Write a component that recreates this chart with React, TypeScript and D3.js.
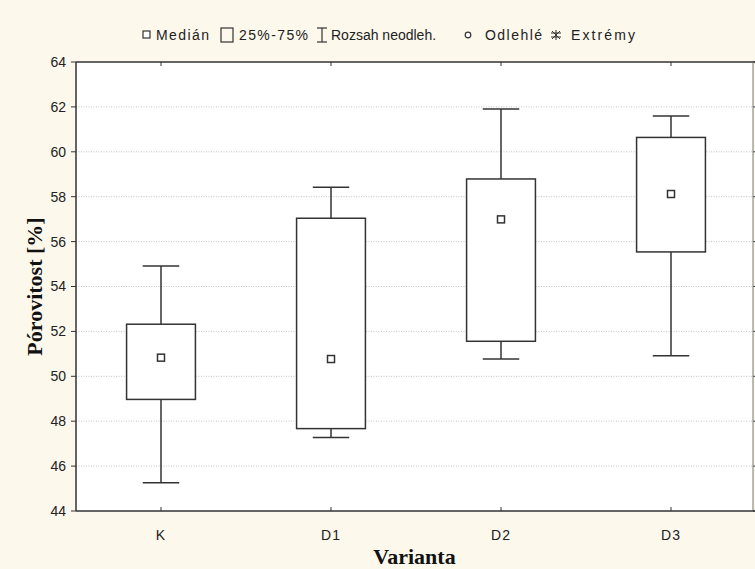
import React from "react";
import * as d3 from "d3";

// Porosity per variant: whisker ends, quartiles and median
const categories = ["K", "D1", "D2", "D3"];
const whiskerLow = [45.26, 47.27, 50.77, 50.92];
const q1 = [48.97, 47.67, 51.56, 55.54];
const medians = [50.83, 50.77, 56.99, 58.12];
const q3 = [52.32, 57.04, 58.79, 60.64];
const whiskerHigh = [54.91, 58.42, 61.91, 61.59];
const yTicks = [44, 46, 48, 50, 52, 54, 56, 58, 60, 62, 64];

const W = 755;
const H = 569;
const left = 76;
const right = 753;
const top = 62;
const bottom = 511;

const ink = "#333";
const sansFont = "'Liberation Sans', Arial, sans-serif";
const serifFont = "'Liberation Serif', 'Times New Roman', serif";

export default function App() {
  const x = d3.scaleBand<string>().domain(categories).range([left, 756]).paddingInner(0).paddingOuter(0);
  const y = d3.scaleLinear().domain([44, 64]).range([bottom, top]);
  const boxW = x.bandwidth() * 0.405;
  const capW = boxW * 0.53;
  const cx = (c: string) => (x(c) as number) + x.bandwidth() / 2;

  React.useEffect(() => {
    document.body.style.margin = "0";
  }, []);

  const legendY = 35;

  return (
    <svg width={W} height={H} style={{ display: "block", position: "absolute", left: 0, top: 0 }}>
      <rect x={0} y={0} width={W} height={H} fill="#fcf8ec" />
      <rect x={left} y={top} width={right - left} height={bottom - top} fill="#ffffff" />

      {/* horizontal dotted grid */}
      {yTicks.filter((t) => t !== 44 && t !== 64).map((t) => (
        <line key={"g" + t} x1={left} x2={right} y1={y(t)} y2={y(t)} stroke="#c4c4c4" strokeWidth={1} strokeDasharray="1,1.5" />
      ))}

      {/* y axis ticks & labels */}
      {yTicks.map((t) => (
        <g key={"yt" + t}>
          <line x1={left - 5} x2={left} y1={y(t)} y2={y(t)} stroke={ink} strokeWidth={1} />
          <line x1={right} x2={right + 4} y1={y(t)} y2={y(t)} stroke={ink} strokeWidth={1} />
          <text x={left - 10} y={y(t)} dy="0.35em" textAnchor="end" fontFamily={sansFont} fontSize={14} fill="#222">
            {t}
          </text>
        </g>
      ))}

      {/* boxes */}
      {categories.map((c, i) => {
        const xc = cx(c);
        return (
          <g key={c} stroke={ink} strokeWidth={1.5}>
            <line x1={xc} x2={xc} y1={y(whiskerHigh[i])} y2={y(q3[i])} />
            <line x1={xc} x2={xc} y1={y(q1[i])} y2={y(whiskerLow[i])} />
            <line x1={xc - capW / 2} x2={xc + capW / 2} y1={y(whiskerHigh[i])} y2={y(whiskerHigh[i])} />
            <line x1={xc - capW / 2} x2={xc + capW / 2} y1={y(whiskerLow[i])} y2={y(whiskerLow[i])} />
            <rect x={xc - boxW / 2} y={y(q3[i])} width={boxW} height={y(q1[i]) - y(q3[i])} fill="#ffffff" />
            <rect x={xc - 3.5} y={y(medians[i]) - 3.5} width={7} height={7} fill="#ffffff" />
          </g>
        );
      })}

      {/* frame */}
      <line x1={left} x2={right + 2} y1={top} y2={top} stroke={ink} strokeWidth={1.3} />
      <line x1={right} x2={right} y1={top} y2={bottom} stroke="#777" strokeWidth={1} />
      <line x1={left} x2={left} y1={top} y2={bottom} stroke={ink} strokeWidth={1.5} />
      <line x1={left} x2={right + 2} y1={bottom} y2={bottom} stroke={ink} strokeWidth={1.5} />

      {/* x axis ticks & labels */}
      {categories.map((c) => (
        <g key={"xt" + c}>
          <line x1={cx(c)} x2={cx(c)} y1={bottom} y2={bottom - 4} stroke={ink} strokeWidth={1} />
          <line x1={cx(c)} x2={cx(c)} y1={top} y2={top + 4} stroke={ink} strokeWidth={1} />
          <text x={cx(c)} y={540} textAnchor="middle" fontFamily={sansFont} fontSize={14} fill="#222" letterSpacing={1}>
            {c}
          </text>
        </g>
      ))}

      {/* axis titles */}
      <text x={(left + right) / 2} y={564} textAnchor="middle" fontFamily={serifFont} fontWeight="bold" fontSize={22} fill="#111">
        Varianta
      </text>
      <text transform={`translate(42,${(top + bottom) / 2}) rotate(-90)`} textAnchor="middle" fontFamily={serifFont} fontWeight="bold" fontSize={22} fill="#111">
        Pórovitost [%]
      </text>

      {/* legend */}
      <g stroke={ink} strokeWidth={1.2} fill="#ffffff">
        <rect x={143} y={legendY - 4} width={7} height={7} />
        <rect x={221} y={legendY - 7} width={12} height={14} fill="none" />
        <line x1={322} x2={322} y1={legendY - 7} y2={legendY + 7} />
        <line x1={317} x2={327} y1={legendY - 7} y2={legendY - 7} />
        <line x1={317} x2={327} y1={legendY + 7} y2={legendY + 7} />
        <circle cx={468} cy={legendY} r={2.8} />
        <g strokeWidth={1}>
          <line x1={556} x2={556} y1={legendY - 5} y2={legendY + 5} />
          <line x1={551} x2={561} y1={legendY - 2} y2={legendY - 2} />
          <line x1={551} x2={561} y1={legendY + 2} y2={legendY + 2} />
          <line x1={552} x2={560} y1={legendY - 4} y2={legendY + 4} />
          <line x1={552} x2={560} y1={legendY + 4} y2={legendY - 4} />
        </g>
      </g>
      <g fontFamily={sansFont} fontSize={14} fill="#222">
        <text x={156} y={legendY} dy="0.35em" textLength={53} lengthAdjust="spacing">Medián</text>
        <text x={239} y={legendY} dy="0.35em" textLength={69} lengthAdjust="spacing">25%-75%</text>
        <text x={331} y={legendY} dy="0.35em">Rozsah neodleh.</text>
        <text x={485} y={legendY} dy="0.35em" textLength={57} lengthAdjust="spacing">Odlehlé</text>
        <text x={571} y={legendY} dy="0.35em" textLength={64} lengthAdjust="spacing">Extrémy</text>
      </g>
    </svg>
  );
}
